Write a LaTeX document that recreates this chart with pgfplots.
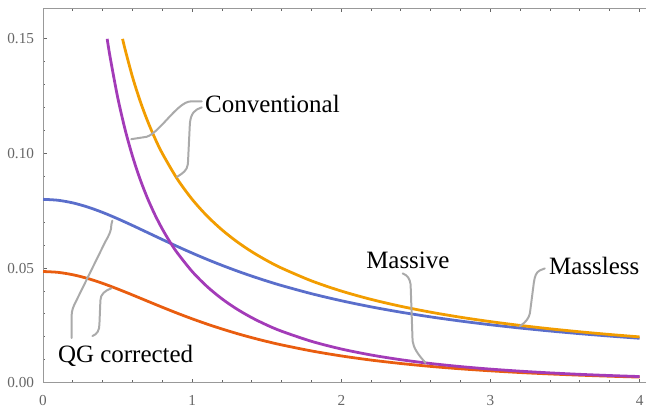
\documentclass[border=0pt]{standalone}
\usepackage{fontspec}
\setmainfont{Liberation Serif}
\usepackage{pgfplots}
\pgfplotsset{compat=1.18}

\definecolor{cblue}{HTML}{5A6ECB}
\definecolor{corange}{HTML}{F29D00}
\definecolor{cpurple}{HTML}{A33BB8}
\definecolor{cred}{HTML}{E95D0F}
\definecolor{ccall}{HTML}{AAAAAA}
\definecolor{cframe}{HTML}{999999}
\definecolor{ctick}{HTML}{666666}

\begin{document}
\begin{tikzpicture}
  % picture frame in reference pixels (1px = 0.5bp)
  \begin{scope}[x=0.5bp,y=-0.5bp,shift={(-43.3,-385)}]
    \path[use as bounding box] (0,0) rectangle (650,406);
  \end{scope}
  \begin{axis}[
      width=303.35bp, height=188.35bp, scale only axis,
      xmin=0, xmax=4.0447, ymin=0, ymax=0.16335,
      clip=false,
      axis line style={draw=none},
      xtick={0,1,2,3,4}, minor x tick num=4,
      ytick={0,0.05,0.1,0.15}, minor y tick num=4,
      xtick pos=both, ytick pos=left,
      tick align=inside,
      major tick length=2bp, minor tick length=1.2bp,
      every tick/.style={ctick, line width=0.5bp},
      /pgf/number format/assume math mode=true,
      tick label style={font=\fontsize{7.7}{9}\selectfont, text=ctick},
      yticklabel style={/pgf/number format/fixed,
        /pgf/number format/fixed zerofill,
        /pgf/number format/precision=2, xshift=-1bp},
      xticklabel style={yshift=-2.7bp},
      every axis plot/.append style={line width=1.4bp, smooth},
    ]
    \draw[cframe, line width=0.5bp] (rel axis cs:1,0) -- (rel axis cs:0,0)
      -- (rel axis cs:0,1) -- (rel axis cs:1,1);

    % QG corrected, massless
    \addplot[cblue] coordinates {
      (0,0.08) (0.1,0.07960) (0.2,0.07845) (0.3,0.07663) (0.4,0.07428)
      (0.5,0.07155) (0.6,0.06860) (0.7,0.06554) (0.8,0.06247) (0.9,0.05946)
      (1.0,0.05657) (1.1,0.05381) (1.2,0.05122) (1.3,0.04878) (1.4,0.04650)
      (1.5,0.04438) (1.6,0.04240) (1.8,0.03885) (2.0,0.03578) (2.2,0.03310)
      (2.4,0.03077) (2.6,0.02872) (2.8,0.02691) (3.0,0.02530) (3.2,0.02386)
      (3.4,0.02257) (3.6,0.02141) (3.8,0.02036) (4.0,0.01940)};
    % QG corrected, massive
    \addplot[cred] coordinates {
      (0,0.04852) (0.1,0.04816) (0.2,0.04711) (0.3,0.04547) (0.4,0.04335)
      (0.5,0.04091) (0.6,0.03829) (0.7,0.03560) (0.8,0.03293) (0.9,0.03034)
      (1.0,0.02789) (1.1,0.02559) (1.2,0.02346) (1.3,0.02148) (1.4,0.01967)
      (1.5,0.01802) (1.6,0.01651) (1.8,0.01388) (2.0,0.01170) (2.2,0.00989)
      (2.4,0.00839) (2.6,0.00713) (2.8,0.00608) (3.0,0.00521) (3.2,0.00446)
      (3.4,0.00384) (3.6,0.00331) (3.8,0.00286) (4.0,0.00247)};
    % conventional, massless
    \addplot[corange] coordinates {
      (0.5333,0.15) (0.55,0.14545) (0.6,0.13333) (0.65,0.12308) (0.7,0.11429)
      (0.75,0.10667) (0.8,0.1) (0.9,0.08889) (1.0,0.08) (1.1,0.07273)
      (1.2,0.06667) (1.3,0.06154) (1.4,0.05714) (1.5,0.05333) (1.6,0.05)
      (1.8,0.04444) (2.0,0.04) (2.2,0.03636) (2.4,0.03333) (2.6,0.03077)
      (2.8,0.02857) (3.0,0.02667) (3.2,0.025) (3.4,0.02353) (3.6,0.02222)
      (3.8,0.02105) (4.0,0.02)};
    % conventional, massive
    \addplot[cpurple] coordinates {
      (0.43,0.15) (0.45,0.14195) (0.5,0.12461) (0.55,0.11049) (0.6,0.09878)
      (0.65,0.08892) (0.7,0.08054) (0.75,0.07331) (0.8,0.06703) (0.85,0.06153)
      (0.9,0.05668) (1.0,0.04852) (1.1,0.04196) (1.2,0.03659) (1.3,0.03213)
      (1.4,0.02838) (1.5,0.02519) (1.6,0.02247) (1.8,0.01807) (2.0,0.01472)
      (2.2,0.01211) (2.4,0.01004) (2.6,0.00839) (2.8,0.00705) (3.0,0.00595)
      (3.2,0.00505) (3.4,0.00430) (3.6,0.00367) (3.8,0.00315) (4.0,0.00271)};
  \end{axis}

  % callouts and their labels, in reference pixels
  \begin{scope}[x=0.5bp,y=-0.5bp,shift={(-43.3,-385)}]
    \begin{scope}[ccall, line width=1bp, line cap=round, line join=round]
      \draw (203,102) -- (192,102) .. controls (178,102) and (158,138) .. (145,138) -- (132,140);
      \draw (203,108) .. controls (196,110) and (192,114) .. (191,124) -- (189,165)
        .. controls (188,172) and (184,174) .. (178,178);
      \draw (72,340) -- (72,318) .. controls (72,312) and (74,308) .. (76,304) -- (106,243)
        .. controls (110,236) and (112,232) .. (112,226) -- (113,222);
      \draw (93,338) .. controls (98,336) and (100,332) .. (100,326) -- (101,302)
        .. controls (101,296) and (106,292) .. (112,290);
      \draw (405,275) .. controls (410,277) and (412,280) .. (413,286) -- (415,343)
        .. controls (416,350) and (420,356) .. (428,365);
      \draw (548,270) -- (543,272) .. controls (539,274) and (538,278) .. (537,284) -- (533,315)
        .. controls (532,320) and (529,324) .. (523,328);
    \end{scope}
    \begin{scope}[every node/.style={anchor=base west, inner sep=0pt,
        font=\fontsize{12.6}{15}\selectfont}]
      \node at (206,113) {Conventional};
      \node at (58,365) {QG corrected};
      \node at (368,270.5) {Massive};
      \node at (552,276) {Massless};
    \end{scope}
  \end{scope}
\end{tikzpicture}
\end{document}
